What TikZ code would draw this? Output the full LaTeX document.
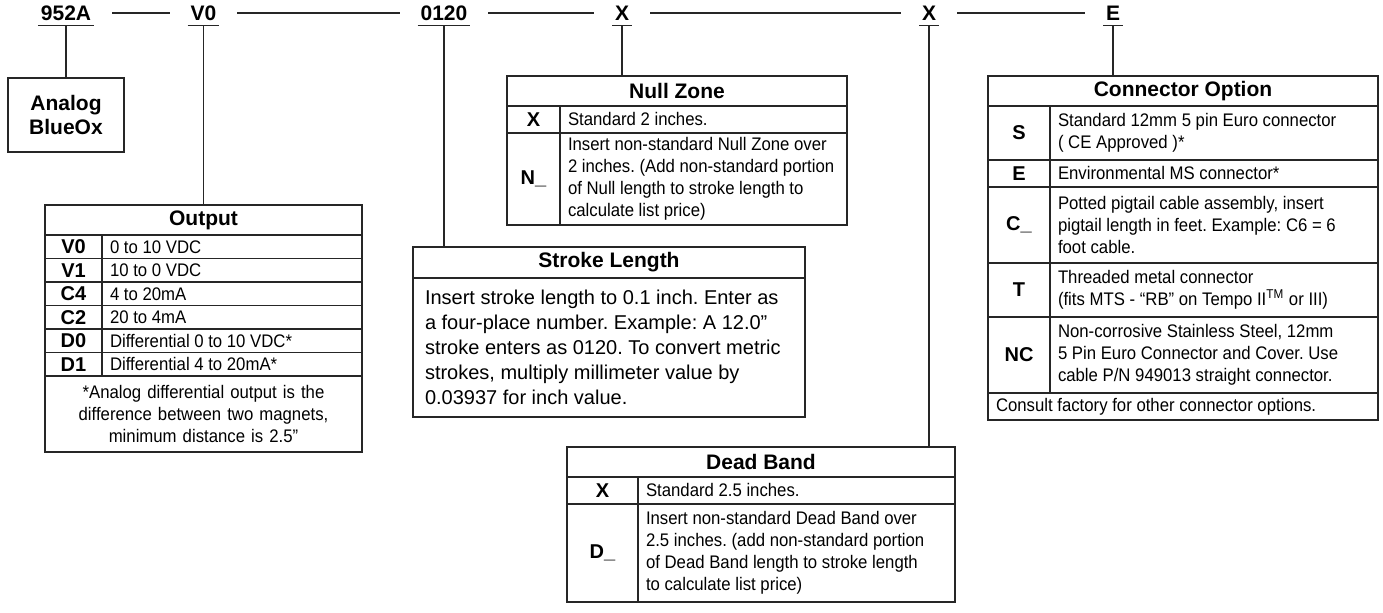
\documentclass[tikz,border=0pt]{standalone}
\usepackage{fontspec}
\setmainfont{Liberation Sans}
\newfontfamily\cellfamily{Liberation Sans}[FakeStretch=0.92]
\usetikzlibrary{positioning}
\frenchspacing

\newcommand{\hdrfont}{\bfseries\fontsize{10.5}{12}\selectfont}
\newcommand{\cellfont}{\cellfamily\fontsize{9.1}{11}\selectfont}
\newcommand{\strokefont}{\fontsize{10}{12.5}\selectfont}

\begin{document}
\begin{tikzpicture}[x=1pt, y=1pt,
    code/.style={font=\hdrfont, inner xsep=1.5pt, inner ysep=2.5pt, text height=7.6pt, text depth=0pt, outer sep=0pt},
    cell/.style={draw=black!85, line width=0.6pt, outer sep=0pt, inner sep=0pt},
    tbltitle/.style={cell, font=\hdrfont, minimum height=15pt, anchor=north west},
    optkey/.style={cell, font=\bfseries\fontsize{10}{12}\selectfont},
    optval/.style={cell, font=\cellfont, align=flush left, inner xsep=4pt},
    every edge/.style={draw=black!85, line width=0.6pt}
]
\useasboundingbox (0,0) rectangle (691.5,-306.5);

% Part number codes (top row)
\node[code] (c952) at (33,-6.5) {952A};
\node[code] (cV0) at (101.75,-6.5) {V0};
\node[code] (c0120) at (222,-6.5) {0120};
\node[code] (cX1) at (311,-6.5) {X};
\node[code] (cX2) at (464.5,-6.5) {X};
\node[code] (cE) at (556.5,-6.5) {E};
\foreach \c in {c952,cV0,c0120,cX1,cX2,cE}
    \draw[black!85, line width=0.6pt] (\c.south west) -- (\c.south east);

% Dashes between the codes
\path (c952) edge[shorten <=9pt, shorten >=9pt] (cV0);
\path (cV0) edge[shorten <=9pt, shorten >=9pt] (c0120);
\path (c0120) edge[shorten <=9pt, shorten >=9pt] (cX1);
\path (cX1) edge[shorten <=9pt, shorten >=9pt] (cX2);
\path (cX2) edge[shorten <=9pt, shorten >=9pt] (cE);

% Model box
\node[cell, font=\hdrfont, align=center, minimum width=58pt, minimum height=37pt, anchor=north] (analog) at (33,-39) {Analog\\BlueOx};

% Output table
\node[tbltitle, minimum width=158.5pt] (out) at (22.5,-102.5) {Output};
\node[optkey, minimum width=28.5pt, minimum height=11.75pt, below right=0pt of out.south west] (outV0) {V0};
\node[optval, text width=122pt, minimum height=11.75pt, right=0pt of outV0] (outV0v) {0 to 10 VDC};
\node[optkey, minimum width=28.5pt, minimum height=11.75pt, below=0pt of outV0] (outV1) {V1};
\node[optval, text width=122pt, minimum height=11.75pt, right=0pt of outV1] (outV1v) {10 to 0 VDC};
\node[optkey, minimum width=28.5pt, minimum height=11.75pt, below=0pt of outV1] (outC4) {C4};
\node[optval, text width=122pt, minimum height=11.75pt, right=0pt of outC4] (outC4v) {4 to 20mA};
\node[optkey, minimum width=28.5pt, minimum height=11.75pt, below=0pt of outC4] (outC2) {C2};
\node[optval, text width=122pt, minimum height=11.75pt, right=0pt of outC2] (outC2v) {20 to 4mA};
\node[optkey, minimum width=28.5pt, minimum height=11.75pt, below=0pt of outC2] (outD0) {D0};
\node[optval, text width=122pt, minimum height=11.75pt, right=0pt of outD0] (outD0v) {Differential 0 to 10 VDC*};
\node[optkey, minimum width=28.5pt, minimum height=11.75pt, below=0pt of outD0] (outD1) {D1};
\node[optval, text width=122pt, minimum height=11.75pt, right=0pt of outD1] (outD1v) {Differential 4 to 20mA*};
\node[optval, align=center, text width=150.5pt, minimum height=38pt, below right=0pt of outD1.south west] (outnote)
    {*Analog differential output is the\\difference between two magnets,\\minimum distance is 2.5”};

% Null Zone table
\node[tbltitle, minimum width=170pt] (nz) at (253.5,-38) {Null Zone};
\node[optkey, minimum width=26.5pt, minimum height=13.5pt, below right=0pt of nz.south west] (nzX) {X};
\node[optval, text width=135.5pt, minimum height=13.5pt, right=0pt of nzX] (nzXv) {Standard 2 inches.};
\node[optkey, minimum width=26.5pt, minimum height=46pt, below=0pt of nzX] (nzN) {N\_};
\node[optval, text width=135.5pt, minimum height=46pt, right=0pt of nzN] (nzNv)
    {Insert non-standard Null Zone over\\2 inches. (Add non-standard portion\\of Null length to stroke length to\\calculate list price)};

% Stroke Length table
\node[tbltitle, minimum width=196pt, minimum height=15.5pt] (sl) at (206.5,-123.5) {Stroke Length};
\node[cell, font=\strokefont, align=flush left, inner xsep=6pt, text width=184pt, minimum height=69.5pt, below=0pt of sl] (slv)
    {Insert stroke length to 0.1 inch. Enter as\\a four-place number. Example: A 12.0”\\stroke enters as 0120. To convert metric\\strokes, multiply millimeter value by\\0.03937 for inch value.};

% Dead Band table
\node[tbltitle, minimum width=194pt] (db) at (283.5,-223.5) {Dead Band};
\node[optkey, minimum width=35.5pt, minimum height=13.5pt, below right=0pt of db.south west] (dbX) {X};
\node[optval, text width=150.5pt, minimum height=13.5pt, right=0pt of dbX] (dbXv) {Standard 2.5 inches.};
\node[optkey, minimum width=35.5pt, minimum height=49pt, below=0pt of dbX] (dbD) {D\_};
\node[optval, text width=150.5pt, minimum height=49pt, right=0pt of dbD] (dbDv)
    {Insert non-standard Dead Band over\\2.5 inches. (add non-standard portion\\of Dead Band length to stroke length\\to calculate list price)};

% Connector Option table
\node[tbltitle, minimum width=195pt] (co) at (494,-38) {Connector Option};
\node[optkey, minimum width=31pt, minimum height=27pt, below right=0pt of co.south west] (coS) {S};
\node[optval, text width=156pt, minimum height=27pt, right=0pt of coS] (coSv) {Standard 12mm 5 pin Euro connector\\( CE Approved )*};
\node[optkey, minimum width=31pt, minimum height=13.5pt, below=0pt of coS] (coE) {E};
\node[optval, text width=156pt, minimum height=13.5pt, right=0pt of coE] (coEv) {Environmental MS connector*};
\node[optkey, minimum width=31pt, minimum height=38pt, below=0pt of coE] (coC) {C\_};
\node[optval, text width=156pt, minimum height=38pt, right=0pt of coC] (coCv)
    {Potted pigtail cable assembly, insert\\pigtail length in feet. Example: C6 = 6\\foot cable.};
\node[optkey, minimum width=31pt, minimum height=27pt, below=0pt of coC] (coT) {T};
\node[optval, text width=156pt, minimum height=27pt, right=0pt of coT] (coTv)
    {Threaded metal connector\\(fits MTS - “RB” on Tempo II\textsuperscript{TM} or III)};
\node[optkey, minimum width=31pt, minimum height=38pt, below=0pt of coT] (coNC) {NC};
\node[optval, text width=156pt, minimum height=38pt, right=0pt of coNC] (coNCv)
    {Non-corrosive Stainless Steel, 12mm\\5 Pin Euro Connector and Cover. Use\\cable P/N 949013 straight connector.};
\node[optval, text width=187pt, minimum height=13.5pt, below right=0pt of coNC.south west] (conote)
    {Consult factory for other connector options.};

% Leads from the codes down to their tables
\path (c952.south) edge (analog.north);
\path (cV0.south) edge (cV0.south |- out.north);
\path (c0120.south) edge (c0120.south |- sl.north);
\path (cX1.south) edge (cX1.south |- nz.north);
\path (cX2.south) edge (cX2.south |- db.north);
\path (cE.south) edge (cE.south |- co.north);

\end{tikzpicture}
\end{document}
